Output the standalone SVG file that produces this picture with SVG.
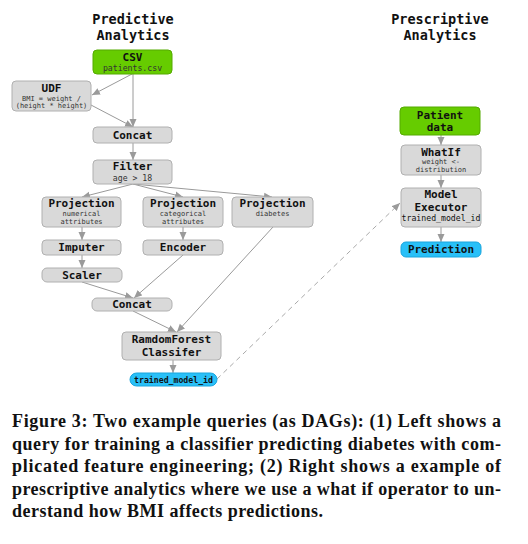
<svg xmlns="http://www.w3.org/2000/svg" width="528" height="544" viewBox="0 0 528 544">
<style>
.t{font-family:"DejaVu Sans Mono","Liberation Mono",monospace;font-weight:bold;fill:#111;text-anchor:middle}
.h{font-size:13.5px}
.n{font-size:11px}
.s{font-family:"DejaVu Sans Mono","Liberation Mono",monospace;fill:#333;text-anchor:middle;font-size:7px}
.s8{font-size:8.2px}
.g{fill:#d9d9d9;stroke:#b0b0b0;stroke-width:1}
.gr{fill:#66cc00;stroke:#55aa00;stroke-width:1}
.bl{fill:#29c0f8;stroke:#1aa5dd;stroke-width:1}
.e{stroke:#9a9a9a;stroke-width:1;fill:none;marker-end:url(#a)}
.d{stroke:#aaa;stroke-width:1;fill:none;stroke-dasharray:5 4;marker-end:url(#a)}
.c{font-family:"Liberation Serif",serif;font-weight:bold;font-size:18px;fill:#111}
</style>
<defs>
<marker id="a" markerUnits="userSpaceOnUse" markerWidth="8" markerHeight="8" viewBox="0 0 8 8" refX="8" refY="4" orient="auto">
<path d="M0,0.5 L8,4 L0,7.5 Z" fill="#9a9a9a"/>
</marker>
</defs>
<text class="t h" x="133" y="24">Predictive</text>
<text class="t h" x="133" y="40">Analytics</text>
<text class="t h" x="440" y="24">Prescriptive</text>
<text class="t h" x="440" y="40">Analytics</text>
<g id="edges">
<line class="e" x1="132" y1="74" x2="92" y2="95"/>
<line class="e" x1="133" y1="74" x2="133" y2="127"/>
<line class="e" x1="91" y1="105" x2="133" y2="127"/>
<line class="e" x1="133" y1="143" x2="133" y2="160"/>
<line class="e" x1="133" y1="184" x2="82" y2="197"/>
<line class="e" x1="133" y1="184" x2="183" y2="197"/>
<line class="e" x1="133" y1="184" x2="272" y2="197"/>
<line class="e" x1="82" y1="227" x2="82" y2="240"/>
<line class="e" x1="183" y1="227" x2="183" y2="240"/>
<line class="e" x1="82" y1="255" x2="82" y2="268"/>
<line class="e" x1="82" y1="282" x2="133" y2="298"/>
<line class="e" x1="183" y1="255" x2="134" y2="298"/>
<line class="e" x1="273" y1="227" x2="177" y2="332"/>
<line class="e" x1="133" y1="311" x2="176" y2="332"/>
<line class="e" x1="173" y1="360" x2="173" y2="373"/>
<line class="d" x1="217" y1="379" x2="400" y2="203"/>
<line class="e" x1="441" y1="135" x2="441" y2="145"/>
<line class="e" x1="441" y1="175" x2="441" y2="188"/>
<line class="e" x1="441" y1="227" x2="441" y2="242"/>
</g>
<g id="csv"><rect class="gr" x="93" y="50" width="79" height="24" rx="4"/><text class="t n" x="132.5" y="61">CSV</text><text class="s s8" x="132.5" y="70.5">patients.csv</text></g>
<g id="udf"><rect class="g" x="12" y="81" width="79" height="30" rx="4"/><text class="t n" x="51.5" y="92">UDF</text><text class="s" x="51.5" y="100.5">BMI = weight /</text><text class="s" x="51.5" y="107.5">(height * height)</text></g>
<g id="concat1"><rect class="g" x="93" y="127" width="79" height="16" rx="4"/><text class="t n" x="132.5" y="139">Concat</text></g>
<g id="filter"><rect class="g" x="93" y="160" width="79" height="24" rx="4"/><text class="t n" x="132.5" y="170">Filter</text><text class="s s8" x="132.5" y="181">age &gt; 18</text></g>
<g id="proj-num"><rect class="g" x="42" y="197" width="79" height="30" rx="4"/><text class="t n" x="81.5" y="207">Projection</text><text class="s" x="81.5" y="216">numerical</text><text class="s" x="81.5" y="223.5">attributes</text></g>
<g id="proj-cat"><rect class="g" x="143" y="197" width="80" height="30" rx="4"/><text class="t n" x="183" y="207">Projection</text><text class="s" x="183" y="216">categorical</text><text class="s" x="183" y="223.5">attributes</text></g>
<g id="proj-diab"><rect class="g" x="232" y="197" width="81" height="30" rx="4"/><text class="t n" x="272.5" y="207">Projection</text><text class="s" x="272.5" y="216">diabetes</text></g>
<g id="imputer"><rect class="g" x="42" y="240" width="79" height="15" rx="4"/><text class="t n" x="81.5" y="251">Imputer</text></g>
<g id="encoder"><rect class="g" x="143" y="240" width="80" height="15" rx="4"/><text class="t n" x="183" y="251">Encoder</text></g>
<g id="scaler"><rect class="g" x="42" y="268" width="80" height="14" rx="5"/><text class="t n" x="82" y="278.5">Scaler</text></g>
<g id="concat2"><rect class="g" x="92" y="298" width="80" height="13" rx="5"/><text class="t n" x="132" y="308">Concat</text></g>
<g id="rf"><rect class="g" x="122" y="332" width="99" height="28" rx="4"/><text class="t n" x="171.5" y="342.5">RamdomForest</text><text class="t n" x="171.5" y="355.5">Classifer</text></g>
<g id="trained"><rect class="bl" x="130" y="373" width="87" height="13" rx="6.5"/><text class="t s8" x="173.5" y="382.5">trained_model_id</text></g>
<g id="patient"><rect class="gr" x="400" y="107" width="80" height="28" rx="4"/><text class="t n" x="440" y="118.5">Patient</text><text class="t n" x="440" y="131">data</text></g>
<g id="whatif"><rect class="g" x="401" y="145" width="80" height="30" rx="4"/><text class="t n" x="441" y="155.5">WhatIf</text><text class="s" x="441" y="164">weight &lt;-</text><text class="s" x="441" y="171.5">distribution</text></g>
<g id="executor"><rect class="g" x="401" y="188" width="80" height="39" rx="4"/><text class="t n" x="441" y="197.5">Model</text><text class="t n" x="441" y="211">Executor</text><text class="s s8" x="441" y="221" style="fill:#111">trained_model_id</text></g>
<g id="prediction"><rect class="bl" x="401" y="242" width="80" height="15" rx="5"/><text class="t n" x="441" y="253">Prediction</text></g>
<text class="c" x="12" y="427" textLength="489" lengthAdjust="spacing">Figure 3: Two example queries (as DAGs): (1) Left shows a</text>
<text class="c" x="12" y="449.5" textLength="489" lengthAdjust="spacing">query for training a classifier predicting diabetes with com-</text>
<text class="c" x="12" y="472" textLength="489" lengthAdjust="spacing">plicated feature engineering; (2) Right shows a example of</text>
<text class="c" x="12" y="494.5" textLength="489" lengthAdjust="spacing">prescriptive analytics where we use a what if operator to un-</text>
<text class="c" x="12" y="517" textLength="311" lengthAdjust="spacing">derstand how BMI affects predictions.</text>
</svg>
